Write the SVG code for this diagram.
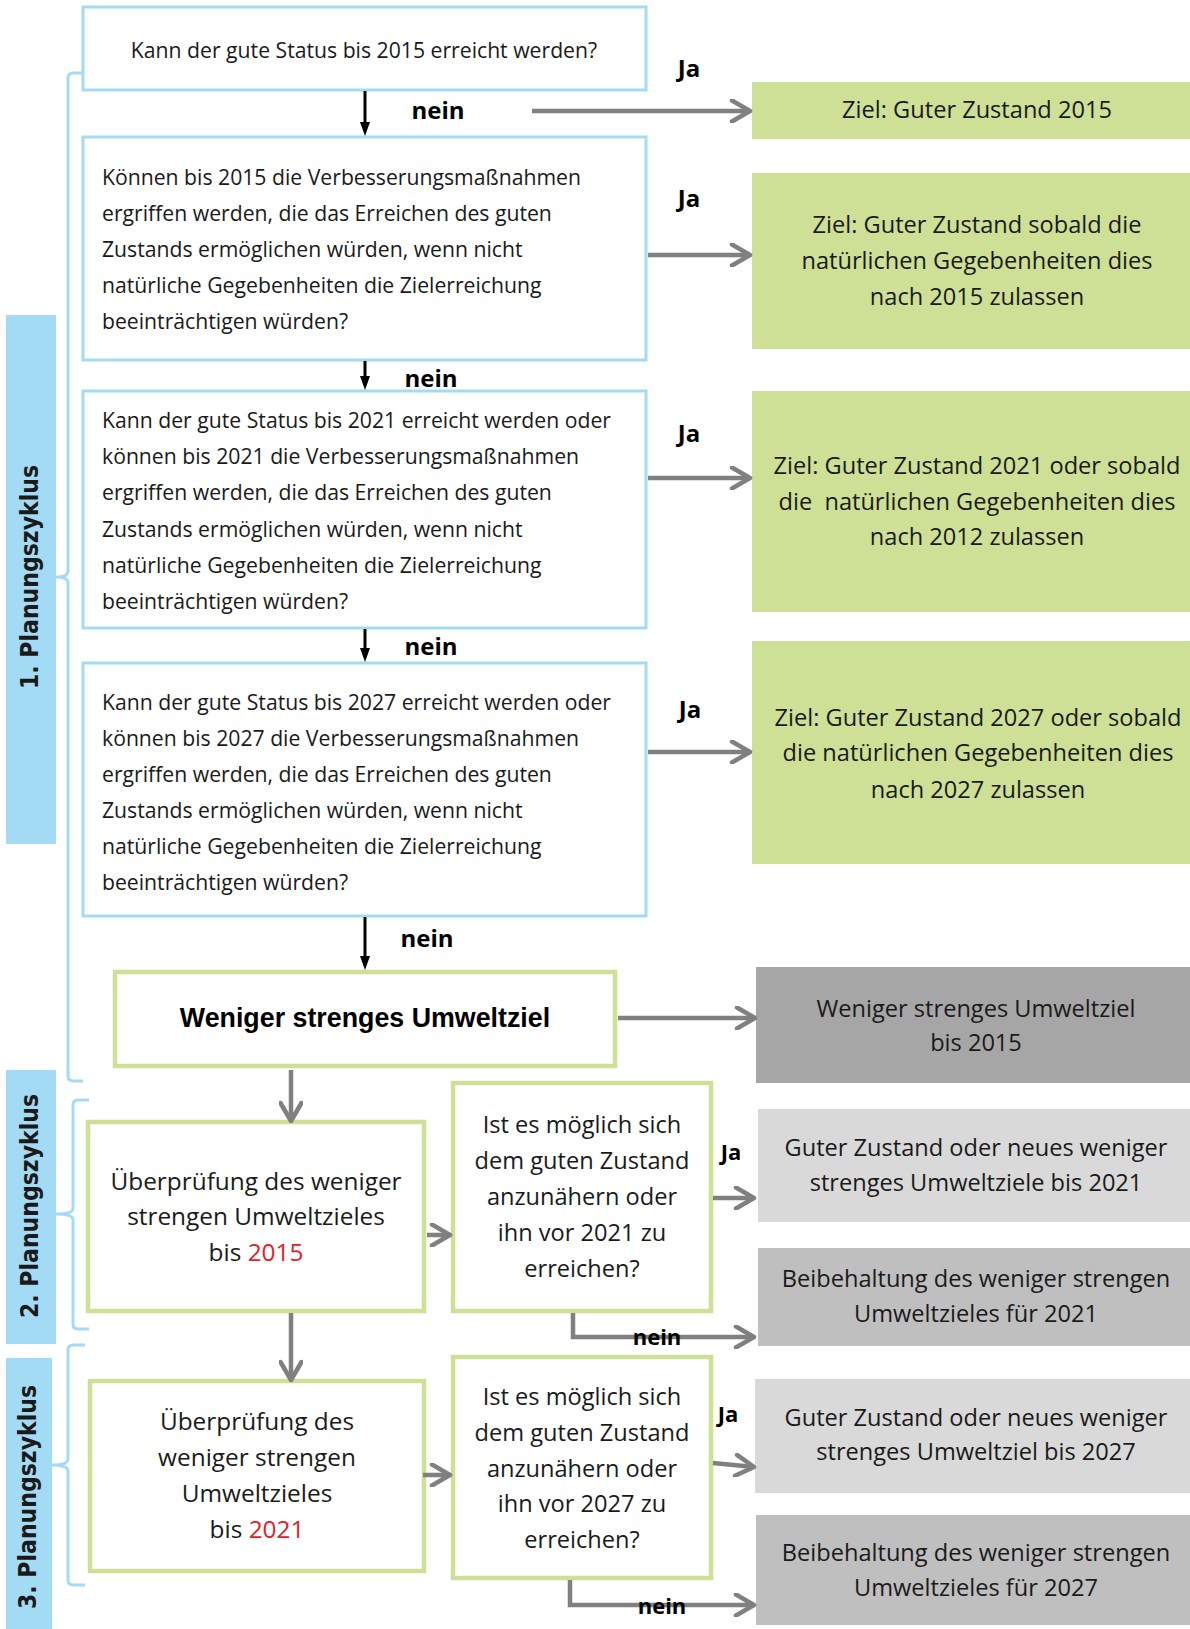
<svg xmlns="http://www.w3.org/2000/svg" width="1190" height="1629" viewBox="0 0 1190 1629">
  <style>
    .qbox { fill: #ffffff; stroke: #a3dbf5; stroke-width: 3; }
    .gbox { fill: #ffffff; stroke: #cde095; stroke-width: 4.5; }
    .goal { fill: #cde095; }
    .dark { fill: #a6a6a6; }
    .light { fill: #d9d9d9; }
    .mid { fill: #bfbfbf; }
    .band { fill: #a3dbf5; }
    .brace { fill: none; stroke: #a3dbf5; stroke-width: 3; stroke-linejoin: round; }
    .txt { font-family: "Open Sans", "Noto Sans", sans-serif; font-size: 21.2px; fill: #1a1a1a; }
    .rtxt { font-family: "Open Sans", "Noto Sans", sans-serif; font-size: 23.6px; fill: #1a1a1a; text-anchor: middle; }
    .ctxt { font-family: "Open Sans", "Noto Sans", sans-serif; font-size: 24.4px; fill: #1a1a1a; text-anchor: middle; }
    .lbl { font-family: "Open Sans", "Noto Sans", sans-serif; font-size: 24px; font-weight: bold; fill: #000000; text-anchor: middle; }
    .lbls { font-family: "Open Sans", "Noto Sans", sans-serif; font-size: 22px; font-weight: bold; fill: #000000; text-anchor: middle; }
    .head { font-family: "Liberation Sans", Arial, sans-serif; font-size: 26.8px; font-weight: bold; fill: #000000; text-anchor: middle; }
    .cyc { font-family: "DejaVu Sans", sans-serif; font-size: 24px; font-weight: bold; fill: #1a1a1a; text-anchor: middle; }
    .red { fill: #e3202a; }
    .gray { fill: none; stroke: #808080; stroke-width: 4.5; }
    .black { fill: none; stroke: #000000; stroke-width: 3; }
  </style>
  <defs>
    <marker id="chev" viewBox="0 0 24 24" refX="21" refY="12" markerWidth="24" markerHeight="24" markerUnits="userSpaceOnUse" orient="auto">
      <path d="M3,1.5 L21,12 L3,22.5" fill="none" stroke="#808080" stroke-width="4.5" stroke-linecap="round" stroke-linejoin="round"/>
    </marker>
    <marker id="blk" viewBox="0 0 14 10" refX="2" refY="5" markerWidth="14" markerHeight="10" markerUnits="userSpaceOnUse" orient="auto">
      <path d="M0,0 L14,5 L0,10 z" fill="#000000"/>
    </marker>
  </defs>

  <!-- planning cycle bands -->
  <g id="cycle1">
    <rect class="band" x="6" y="315" width="50" height="529"/>
    <text class="cyc" transform="translate(38,577) rotate(-90)" textLength="224" lengthAdjust="spacingAndGlyphs">1. Planungszyklus</text>
  </g>
  <g id="cycle2">
    <rect class="band" x="6" y="1070" width="50" height="274"/>
    <text class="cyc" transform="translate(38,1206) rotate(-90)" textLength="224" lengthAdjust="spacingAndGlyphs">2. Planungszyklus</text>
  </g>
  <g id="cycle3">
    <rect class="band" x="6" y="1358" width="46" height="271"/>
    <text class="cyc" transform="translate(36,1497) rotate(-90)" textLength="224" lengthAdjust="spacingAndGlyphs">3. Planungszyklus</text>
  </g>

  <!-- braces grouping each cycle -->
  <g id="braces">
    <path class="brace" d="M83,73 H73 Q68,73 68,78 V571 Q68,577 57,577 Q68,577 68,583 V1076 Q68,1081 73,1081 H83"/>
    <path class="brace" d="M89,1100 H78 Q73,1100 73,1105 V1208 Q73,1214 57,1214 Q73,1214 73,1220 V1324 Q73,1329 78,1329 H89"/>
    <path class="brace" d="M85,1345 H73 Q68,1345 68,1350 V1459 Q68,1465 52,1465 Q68,1465 68,1471 V1580 Q68,1585 73,1585 H85"/>
  </g>

  <!-- question boxes, cycle 1 -->
  <g id="q2015">
    <rect class="qbox" x="83" y="7" width="563" height="83"/>
    <text class="txt" x="364" y="58" text-anchor="middle">Kann der gute Status bis 2015 erreicht werden?</text>
  </g>
  <g id="q2015b">
    <rect class="qbox" x="83" y="137" width="563" height="223"/>
    <text class="txt" x="102" y="185">Können bis 2015 die Verbesserungsmaßnahmen</text>
    <text class="txt" x="102" y="221">ergriffen werden, die das Erreichen des guten</text>
    <text class="txt" x="102" y="257">Zustands ermöglichen würden, wenn nicht</text>
    <text class="txt" x="102" y="293">natürliche Gegebenheiten die Zielerreichung</text>
    <text class="txt" x="102" y="329">beeinträchtigen würden?</text>
  </g>
  <g id="q2021">
    <rect class="qbox" x="83" y="391" width="563" height="237"/>
    <text class="txt" x="102" y="428">Kann der gute Status bis 2021 erreicht werden oder</text>
    <text class="txt" x="102" y="464">können bis 2021 die Verbesserungsmaßnahmen</text>
    <text class="txt" x="102" y="500">ergriffen werden, die das Erreichen des guten</text>
    <text class="txt" x="102" y="537">Zustands ermöglichen würden, wenn nicht</text>
    <text class="txt" x="102" y="573">natürliche Gegebenheiten die Zielerreichung</text>
    <text class="txt" x="102" y="609">beeinträchtigen würden?</text>
  </g>
  <g id="q2027">
    <rect class="qbox" x="83" y="663" width="563" height="253"/>
    <text class="txt" x="102" y="710">Kann der gute Status bis 2027 erreicht werden oder</text>
    <text class="txt" x="102" y="746">können bis 2027 die Verbesserungsmaßnahmen</text>
    <text class="txt" x="102" y="782">ergriffen werden, die das Erreichen des guten</text>
    <text class="txt" x="102" y="818">Zustands ermöglichen würden, wenn nicht</text>
    <text class="txt" x="102" y="854">natürliche Gegebenheiten die Zielerreichung</text>
    <text class="txt" x="102" y="890">beeinträchtigen würden?</text>
  </g>

  <!-- goal boxes -->
  <g id="goal2015">
    <rect class="goal" x="752" y="82" width="438" height="57"/>
    <text class="rtxt" x="977" y="118">Ziel: Guter Zustand 2015</text>
  </g>
  <g id="goalNat2015">
    <rect class="goal" x="752" y="173" width="438" height="176"/>
    <text class="rtxt" x="977" y="233">Ziel: Guter Zustand sobald die</text>
    <text class="rtxt" x="977" y="269">natürlichen Gegebenheiten dies</text>
    <text class="rtxt" x="977" y="305">nach 2015 zulassen</text>
  </g>
  <g id="goal2021">
    <rect class="goal" x="752" y="391" width="438" height="221"/>
    <text class="rtxt" x="977" y="474">Ziel: Guter Zustand 2021 oder sobald</text>
    <text class="rtxt" x="977" y="510" xml:space="preserve">die  natürlichen Gegebenheiten dies</text>
    <text class="rtxt" x="977" y="545">nach 2012 zulassen</text>
  </g>
  <g id="goal2027">
    <rect class="goal" x="752" y="641" width="438" height="223"/>
    <text class="rtxt" x="978" y="726">Ziel: Guter Zustand 2027 oder sobald</text>
    <text class="rtxt" x="978" y="761">die natürlichen Gegebenheiten dies</text>
    <text class="rtxt" x="978" y="798">nach 2027 zulassen</text>
  </g>

  <!-- less strict objective -->
  <g id="lessStrict">
    <rect class="gbox" x="115" y="972" width="500" height="94"/>
    <text class="head" x="365" y="1027">Weniger strenges Umweltziel</text>
  </g>
  <g id="lessStrict2015">
    <rect class="dark" x="756" y="967" width="434" height="116"/>
    <text class="rtxt" x="976" y="1017">Weniger strenges Umweltziel</text>
    <text class="rtxt" x="976" y="1051">bis 2015</text>
  </g>

  <!-- cycle 2 -->
  <g id="review2015">
    <rect class="gbox" x="88" y="1122" width="336" height="189"/>
    <text class="ctxt" x="256" y="1190">Überprüfung des weniger</text>
    <text class="ctxt" x="256" y="1225">strengen Umweltzieles</text>
    <text class="ctxt" x="256" y="1261">bis <tspan class="red">2015</tspan></text>
  </g>
  <g id="check2021">
    <rect class="gbox" x="453" y="1083" width="258" height="228"/>
    <text class="rtxt" x="582" y="1133">Ist es möglich sich</text>
    <text class="rtxt" x="582" y="1169">dem guten Zustand</text>
    <text class="rtxt" x="582" y="1205">anzunähern oder</text>
    <text class="rtxt" x="582" y="1241">ihn vor 2021 zu</text>
    <text class="rtxt" x="582" y="1277">erreichen?</text>
  </g>
  <g id="result2021">
    <rect class="light" x="758" y="1109" width="432" height="113"/>
    <text class="rtxt" x="976" y="1156">Guter Zustand oder neues weniger</text>
    <text class="rtxt" x="976" y="1191">strenges Umweltziele bis 2021</text>
  </g>
  <g id="keep2021">
    <rect class="mid" x="758" y="1248" width="432" height="98"/>
    <text class="rtxt" x="976" y="1287">Beibehaltung des weniger strengen</text>
    <text class="rtxt" x="976" y="1322">Umweltzieles für 2021</text>
  </g>

  <!-- cycle 3 -->
  <g id="review2021">
    <rect class="gbox" x="90" y="1381" width="334" height="190"/>
    <text class="ctxt" x="257" y="1430">Überprüfung des</text>
    <text class="ctxt" x="257" y="1466">weniger strengen</text>
    <text class="ctxt" x="257" y="1502">Umweltzieles</text>
    <text class="ctxt" x="257" y="1538">bis <tspan class="red">2021</tspan></text>
  </g>
  <g id="check2027">
    <rect class="gbox" x="453" y="1357" width="258" height="221"/>
    <text class="rtxt" x="582" y="1405">Ist es möglich sich</text>
    <text class="rtxt" x="582" y="1441">dem guten Zustand</text>
    <text class="rtxt" x="582" y="1477">anzunähern oder</text>
    <text class="rtxt" x="582" y="1512">ihn vor 2027 zu</text>
    <text class="rtxt" x="582" y="1548">erreichen?</text>
  </g>
  <g id="result2027">
    <rect class="light" x="755" y="1379" width="435" height="114"/>
    <text class="rtxt" x="976" y="1426">Guter Zustand oder neues weniger</text>
    <text class="rtxt" x="976" y="1460">strenges Umweltziel bis 2027</text>
  </g>
  <g id="keep2027">
    <rect class="mid" x="756" y="1515" width="434" height="110"/>
    <text class="rtxt" x="976" y="1561">Beibehaltung des weniger strengen</text>
    <text class="rtxt" x="976" y="1596">Umweltzieles für 2027</text>
  </g>

  <!-- connectors -->
  <g id="connectors">
    <path class="black" d="M365,91 V124" marker-end="url(#blk)"/>
    <path class="black" d="M365,361 V378" marker-end="url(#blk)"/>
    <path class="black" d="M365,629 V650" marker-end="url(#blk)"/>
    <path class="black" d="M365,917 V958" marker-end="url(#blk)"/>

    <path class="gray" d="M532,111 H750" marker-end="url(#chev)"/>
    <path class="gray" d="M648,255 H750" marker-end="url(#chev)"/>
    <path class="gray" d="M648,478 H750" marker-end="url(#chev)"/>
    <path class="gray" d="M648,752 H750" marker-end="url(#chev)"/>
    <path class="gray" d="M618,1018 H755" marker-end="url(#chev)"/>

    <path class="gray" d="M291,1070 V1121" marker-end="url(#chev)"/>
    <path class="gray" d="M291,1313 V1380" marker-end="url(#chev)"/>
    <path class="gray" d="M427,1235 H450" marker-end="url(#chev)"/>
    <path class="gray" d="M423,1475 H450" marker-end="url(#chev)"/>

    <path class="gray" d="M713,1198 H754" marker-end="url(#chev)"/>
    <path class="gray" d="M713,1463 L754,1467" marker-end="url(#chev)"/>
    <path class="gray" d="M573,1313 V1337 H754" marker-end="url(#chev)"/>
    <path class="gray" d="M570,1580 V1605 H754" marker-end="url(#chev)"/>

    <!-- branch labels -->
    <text class="lbl" x="438" y="119">nein</text>
    <text class="lbl" x="431" y="387">nein</text>
    <text class="lbl" x="431" y="655">nein</text>
    <text class="lbl" x="427" y="947">nein</text>
    <text class="lbls" x="657" y="1345">nein</text>
    <text class="lbls" x="662" y="1614">nein</text>

    <text class="lbl" x="689" y="77">Ja</text>
    <text class="lbl" x="689" y="207">Ja</text>
    <text class="lbl" x="689" y="442">Ja</text>
    <text class="lbl" x="690" y="718">Ja</text>
    <text class="lbls" x="731" y="1160">Ja</text>
    <text class="lbls" x="728" y="1422">Ja</text>
  </g>
</svg>
